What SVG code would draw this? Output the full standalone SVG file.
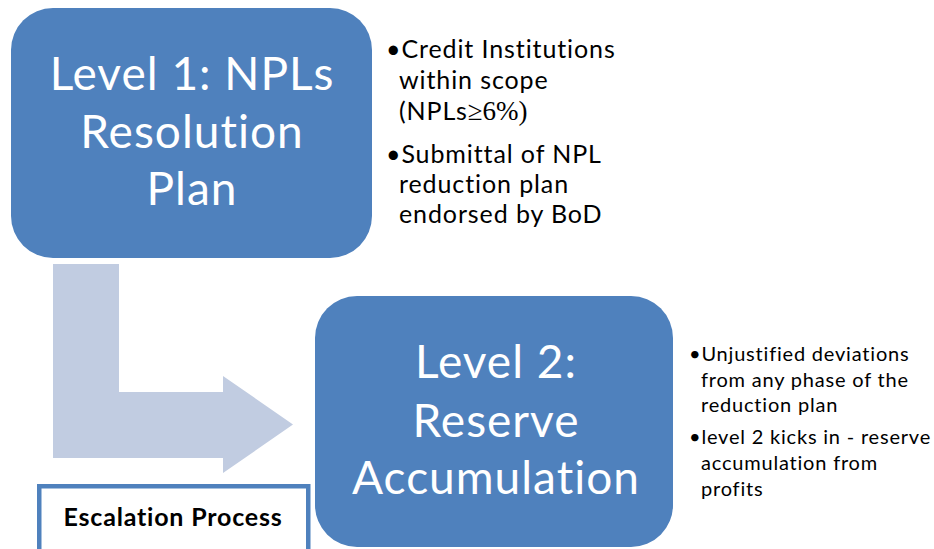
<svg xmlns="http://www.w3.org/2000/svg" width="934" height="549" viewBox="0 0 934 549">
  <style>
    .level { fill: #4F81BD; }
    .level-text { font-family: Lato, "Open Sans", sans-serif; font-size: 46px; letter-spacing: 1px; fill: #FFFFFF; text-anchor: middle; }
    .note { font-family: Lato, "Open Sans", sans-serif; fill: #000000; }
    .note1 { font-size: 25px; letter-spacing: 0.9px; }
    .note2 { font-size: 20px; letter-spacing: 0.8px; }
    .sym { font-family: "Liberation Serif", serif; letter-spacing: 0; }
    .tag { fill: #FFFFFF; stroke: #4F81BD; stroke-width: 4.5; }
    .tag-text { font-family: Lato, "Open Sans", sans-serif; font-weight: bold; font-size: 25px; letter-spacing: 0.8px; fill: #000000; text-anchor: middle; }
    .flow { fill: #C1CCE1; }
  </style>

  <rect width="934" height="549" fill="#FFFFFF"/>

  <!-- bent arrow from level 1 down to level 2 -->
  <g id="connectors">
    <polygon class="flow" points="53,264 119,264 119,392 223,392 223,376 293,424.5 223,473 223,458 53,458"/>
  </g>

  <g id="level1">
    <rect class="level" x="11" y="8" width="361" height="250" rx="42" ry="42"/>
    <text class="level-text" x="192" y="90">Level 1: NPLs</text>
    <text class="level-text" x="192" y="148">Resolution</text>
    <text class="level-text" x="192" y="205">Plan</text>
  </g>

  <g id="level1-notes">
    <text class="note note1" x="386" y="58">•Credit Institutions</text>
    <text class="note note1" x="399" y="89">within scope</text>
    <text class="note note1" x="399" y="120">(NPLs<tspan class="sym" font-size="27">≥6%)</tspan></text>
    <text class="note note1" x="386" y="163">•Submittal of NPL</text>
    <text class="note note1" x="399" y="193">reduction plan</text>
    <text class="note note1" x="399" y="223">endorsed by BoD</text>
  </g>

  <g id="level2">
    <rect class="level" x="315" y="296" width="358" height="251" rx="42" ry="42"/>
    <text class="level-text" x="496" y="378">Level 2:</text>
    <text class="level-text" x="496" y="437">Reserve</text>
    <text class="level-text" x="496" y="494">Accumulation</text>
  </g>

  <g id="level2-notes">
    <text class="note note2" x="689" y="361">•Unjustified deviations</text>
    <text class="note note2" x="701" y="387">from any phase of the</text>
    <text class="note note2" x="701" y="412">reduction plan</text>
    <text class="note note2" x="689" y="444">•level 2 kicks in - reserve</text>
    <text class="note note2" x="701" y="470">accumulation from</text>
    <text class="note note2" x="701" y="496">profits</text>
  </g>

  <g id="escalation">
    <rect class="tag" x="39.25" y="486.25" width="269" height="80"/>
    <text class="tag-text" x="173" y="526">Escalation Process</text>
  </g>
</svg>
